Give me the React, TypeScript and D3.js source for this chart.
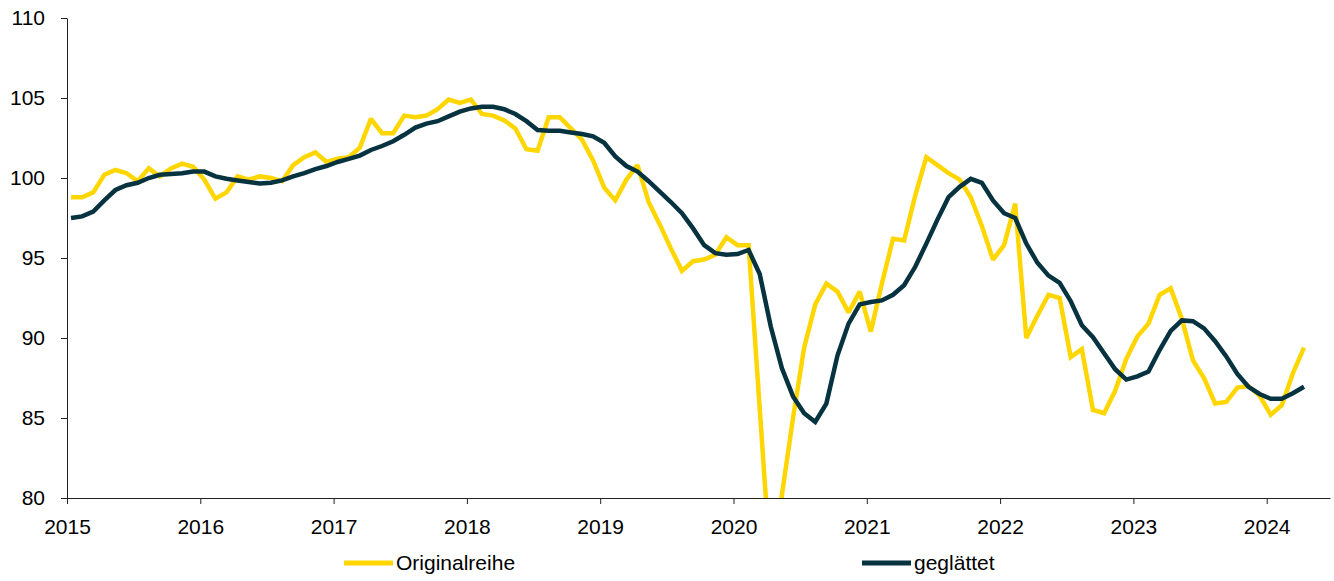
import React, { useEffect, useRef } from "react";
import * as d3 from "d3";

// monthly values, Jan 2015 .. Apr 2024
const startYear = 2015;
const originalreihe = [
  98.8, 98.8, 99.1, 100.2, 100.5, 100.3, 99.8, 100.6, 100.1, 100.6, 100.9, 100.7,
  99.9, 98.7, 99.1, 100.1, 99.9, 100.1, 100.0, 99.8, 100.8, 101.3, 101.6, 101.0,
  101.2, 101.3, 101.9, 103.7, 102.8, 102.8, 103.9, 103.8, 103.9, 104.3, 104.9, 104.7,
  104.9, 104.0, 103.9, 103.6, 103.1, 101.8, 101.7, 103.8, 103.8, 103.1, 102.4, 101.1,
  99.4, 98.6, 99.9, 100.8, 98.5, 97.1, 95.6, 94.2, 94.8, 94.9, 95.2, 96.3,
  95.8, 95.8, 85.6, 75.5, 80.2, 85.0, 89.4, 92.1, 93.4, 92.9, 91.6, 92.9,
  90.4, 93.4, 96.2, 96.1, 98.9, 101.3, 100.8, 100.3, 99.9, 98.8, 97.0, 94.9,
  95.8, 98.4, 90.0, 91.4, 92.7, 92.5, 88.8, 89.3, 85.5, 85.3, 86.7, 88.7,
  90.1, 90.9, 92.7, 93.1, 91.2, 88.6, 87.5, 85.9, 86.0, 86.9, 87.0, 86.4,
  85.2, 85.8, 87.8, 89.4,
];
const geglaettet = [
  97.5, 97.6, 97.9, 98.6, 99.25, 99.55, 99.7, 100.0, 100.2, 100.25, 100.3, 100.4,
  100.4, 100.1, 99.95, 99.85, 99.75, 99.65, 99.7, 99.85, 100.1, 100.3, 100.55, 100.75,
  101.0, 101.2, 101.4, 101.75, 102.0, 102.3, 102.7, 103.15, 103.4, 103.55, 103.85, 104.15,
  104.35, 104.45, 104.45, 104.3, 104.0, 103.55, 103.0, 102.95, 102.95, 102.85, 102.75, 102.6,
  102.2, 101.35, 100.75, 100.4, 99.8, 99.15, 98.5, 97.8, 96.85, 95.8, 95.3, 95.2,
  95.25, 95.5, 94.0, 90.7, 88.1, 86.35, 85.3, 84.75, 85.9, 88.9, 90.9, 92.1,
  92.25, 92.35, 92.7, 93.3, 94.45, 95.9, 97.4, 98.8, 99.45, 99.95, 99.7, 98.6,
  97.8, 97.5, 95.9, 94.7, 93.9, 93.45, 92.3, 90.8, 90.05, 89.05, 88.05, 87.4,
  87.6, 87.9, 89.25, 90.45, 91.1, 91.05, 90.6, 89.8, 88.85, 87.75, 86.95, 86.5,
  86.2, 86.2, 86.55, 86.95,
];
const yearTicks = [2015, 2016, 2017, 2018, 2019, 2020, 2021, 2022, 2023, 2024];
const valueTicks = [80, 85, 90, 95, 100, 105, 110];

const series = [
  { name: "Originalreihe", values: originalreihe, color: "#FFD600" },
  { name: "geglättet", values: geglaettet, color: "#06333F" },
];

const App = () => {
  const ref = useRef<SVGSVGElement>(null);

  useEffect(() => {
    const width = 1334;
    const height = 581;
    const left = 67;
    const right = 1330;
    const top = 18;
    const bottom = 498;
    const font = "'Liberation Sans', Arial, sans-serif";

    const svg = d3.select(ref.current).attr("width", width).attr("height", height);
    svg.selectAll("*").remove();

    const x = d3.scaleLinear().domain([2015, 2024.475]).range([left, right]);
    const y = d3.scaleLinear().domain([80, 110]).range([bottom, top]);

    // dates sit a little after the month start
    const t = (i: number) => startYear + (i + 0.36) / 12;

    svg
      .append("defs")
      .append("clipPath")
      .attr("id", "plot")
      .append("rect")
      .attr("x", left)
      .attr("y", top)
      .attr("width", right - left)
      .attr("height", bottom - top);

    const line = d3
      .line<number>()
      .x((d, i) => x(t(i)))
      .y((d) => y(d));

    // y axis
    svg
      .append("g")
      .attr("transform", `translate(${left},0)`)
      .call(d3.axisLeft(y).tickValues(valueTicks).tickSize(6).tickPadding(16).tickSizeOuter(0))
      .call((g) => g.selectAll("line,path").attr("stroke", "#222"))
      .call((g) =>
        g.selectAll("text").attr("font-size", 21).attr("font-family", font).attr("fill", "#000")
      );

    // x axis
    svg
      .append("g")
      .attr("transform", `translate(0,${bottom})`)
      .call(
        d3
          .axisBottom(x)
          .tickValues(yearTicks)
          .tickFormat(d3.format("d"))
          .tickSize(6)
          .tickPadding(15)
          .tickSizeOuter(0)
      )
      .call((g) => g.selectAll("line,path").attr("stroke", "#222"))
      .call((g) =>
        g.selectAll("text").attr("font-size", 21).attr("font-family", font).attr("fill", "#000")
      );

    svg
      .append("g")
      .attr("clip-path", "url(#plot)")
      .selectAll("path")
      .data(series)
      .join("path")
      .attr("d", (s) => line(s.values))
      .attr("fill", "none")
      .attr("stroke", (s) => s.color)
      .attr("stroke-width", 4.5)
      .attr("stroke-linejoin", "miter")
      .attr("stroke-miterlimit", 2);

    // legend
    const legendX = [344, 862];
    const lg = svg
      .append("g")
      .selectAll("g")
      .data(series)
      .join("g")
      .attr("transform", (s, i) => `translate(${legendX[i]},563)`);
    lg.append("line")
      .attr("x1", 0)
      .attr("x2", 49)
      .attr("stroke", (s) => s.color)
      .attr("stroke-width", 5);
    lg.append("text")
      .attr("x", 52)
      .attr("y", 7)
      .attr("font-size", 21)
      .attr("font-family", font)
      .attr("fill", "#000")
      .text((s) => s.name);
  });

  return (
    <div>
      <svg ref={ref} style={{ position: "absolute", left: 0, top: 0, display: "block" }}></svg>
    </div>
  );
};

export default App;
